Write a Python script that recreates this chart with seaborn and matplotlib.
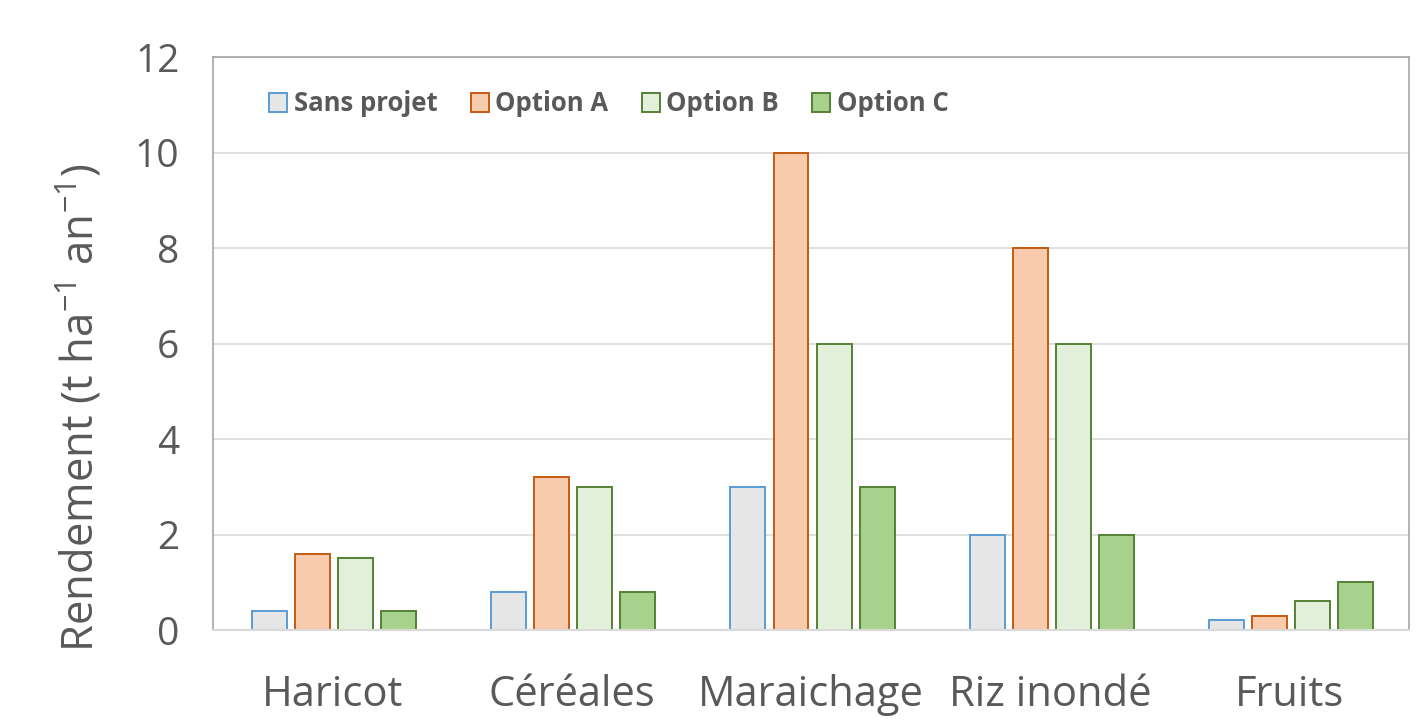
import matplotlib
matplotlib.use("Agg")
import matplotlib.pyplot as plt
import seaborn as sns
import pandas as pd
from matplotlib.patches import Patch

categories = ["Haricot", "Céréales", "Maraichage", "Riz inondé", "Fruits"]
series = ["Sans projet", "Option A", "Option B", "Option C"]
sans_projet = [0.4, 0.8, 3.0, 2.0, 0.2]
option_a = [1.6, 3.2, 10.0, 8.0, 0.3]
option_b = [1.5, 3.0, 6.0, 6.0, 0.6]
option_c = [0.4, 0.8, 3.0, 2.0, 1.0]
yticks = [0, 2, 4, 6, 8, 10, 12]

faces = ["#E7E6E6", "#F8CBAD", "#E2EFDA", "#A9D18E"]
edges = ["#5B9BD5", "#C55A11", "#548235", "#548235"]

rows = []
for s, vals in zip(series, [sans_projet, option_a, option_b, option_c]):
    for c, v in zip(categories, vals):
        rows.append({"cat": c, "serie": s, "val": v})
df = pd.DataFrame(rows)

sns.set_theme(style="white")
plt.rcParams['font.family'] = ['Open Sans', 'DejaVu Sans']

fig = plt.figure(figsize=(14.18, 7.28), dpi=100)
ax = fig.add_axes([0.150, 0.1346, 0.844, 0.7871])

sns.barplot(data=df, x="cat", y="val", hue="serie", order=categories,
            hue_order=series, palette=faces, width=0.72, ax=ax,
            legend=False, errorbar=None, saturation=1)

for cont, ec in zip(ax.containers, edges):
    for p in cont:
        p.set_edgecolor(ec)
        p.set_linewidth(1.4)
        w = p.get_width()
        x = p.get_x()
        nw = w * 0.81
        p.set_x(x + (w - nw) / 2 + 0.006)
        p.set_width(nw)

ax.set_ylim(0, 12)
ax.set_xlim(-0.5, 4.5)
ax.set_yticks(yticks)
ax.set_yticklabels([str(t) for t in yticks])
ax.yaxis.grid(True, color="#D9D9D9", linewidth=1.2)
ax.set_axisbelow(True)
ax.tick_params(axis="y", length=0, pad=24, labelsize=28, labelcolor="#595959")
ax.tick_params(axis="x", length=0, pad=32, labelsize=30, labelcolor="#595959")
for sp in ["left", "top", "right"]:
    ax.spines[sp].set_color("#A6A6A6")
    ax.spines[sp].set_linewidth(1.2)
ax.spines["bottom"].set_color("#D9D9D9")
ax.spines["bottom"].set_linewidth(1.5)

ax.set_xlabel("")
ax.set_ylabel(r"Rendement (t ha$^{\mathregular{-1}}$ an$^{\mathregular{-1}}$)",
              fontsize=31.5, color="#595959")
ax.yaxis.set_label_coords(-0.09, 0.388)

handles = [Patch(facecolor=f, edgecolor=e, linewidth=1.4) for f, e in zip(faces, edges)]
leg = ax.legend(handles, series, loc="upper left", bbox_to_anchor=(0.028, 0.982),
                ncol=4, frameon=False, handlelength=0.7, handleheight=0.75,
                handletextpad=0.25, columnspacing=1.3,
                prop={"weight": "bold", "size": 18.5})
for t in leg.get_texts():
    t.set_color("#595959")

fig.savefig("out.png", dpi=100)
